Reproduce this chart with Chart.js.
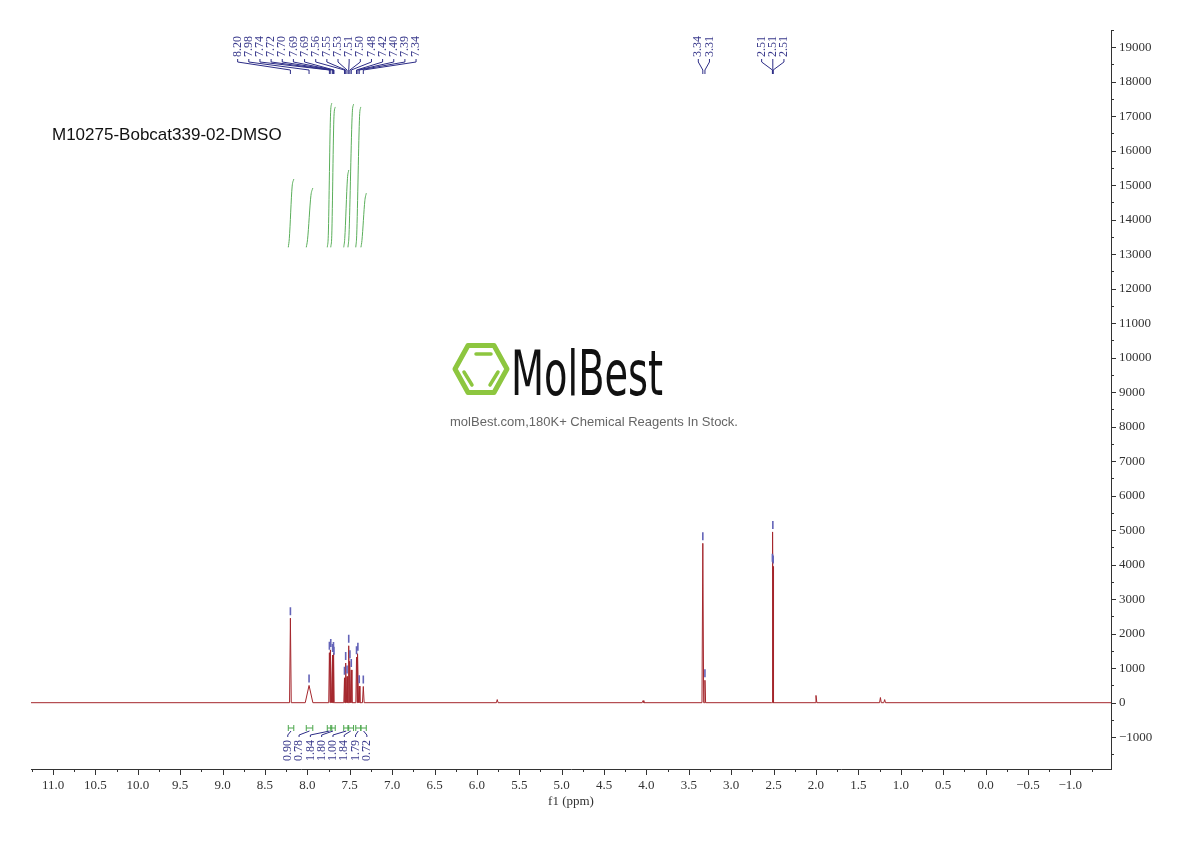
<!DOCTYPE html>
<html>
<head>
<meta charset="utf-8">
<script src="https://cdn.jsdelivr.net/npm/chart.js@4.4.0/dist/chart.umd.min.js"></script>
<style>
    html, body { margin: 0; padding: 0; background: #fff; }
    #wrap { width: 1190px; height: 841px; }
</style>
</head>
<body>
<div id="wrap"><canvas id="nmr" width="1190" height="841"></canvas></div>
<script>
// Sample name printed in the plot
const sampleName = "M10275-Bobcat339-02-DMSO";

// Picked peaks (shift in ppm, printed label, intensity, half width at base)
const peakShift = [8.200, 7.980, 7.740, 7.724, 7.702, 7.692, 7.686, 7.562, 7.548, 7.532,
                   7.512, 7.498, 7.482, 7.420, 7.404, 7.388, 7.340, 3.335, 3.310, 2.514, 2.509, 2.505];
const peakLabel = ["8.20", "7.98", "7.74", "7.72", "7.70", "7.69", "7.69", "7.56", "7.55", "7.53",
                   "7.51", "7.50", "7.48", "7.42", "7.40", "7.39", "7.34", "3.34", "3.31", "2.51", "2.51", "2.51"];
const peakHeight = [2450, 500, 1450, 1530, 1380, 1440, 1300, 720, 1150, 760,
                    1650, 1200, 950, 1320, 1420, 480, 470, 4620, 650, 4000, 4950, 3950];
const peakWidth = [0.010, 0.045, 0.008, 0.008, 0.008, 0.008, 0.008, 0.008, 0.008, 0.008,
                   0.008, 0.008, 0.008, 0.008, 0.008, 0.008, 0.010, 0.010, 0.008, 0.008, 0.008, 0.008];

// Small unlabelled peaks
const minorShift = [5.76, 4.04, 2.00, 1.24, 1.19];
const minorHeight = [90, 60, 210, 150, 90];

// Which picked peaks share a label fan at the top
const labelGroups = [
    [0, 1, 2, 3, 4, 5, 6, 7, 8, 9, 10, 11, 12, 13, 14, 15, 16],
    [17, 18],
    [19, 20, 21]
];

// Integrals
const integralFrom = [8.225, 8.013, 7.765, 7.724, 7.571, 7.521, 7.429, 7.368];
const integralTo = [8.160, 7.936, 7.712, 7.671, 7.512, 7.455, 7.370, 7.305];
const integralValue = ["0.90", "0.78", "1.84", "1.80", "1.00", "1.84", "1.79", "0.72"];
const integralCurves = [
    [[8.225, 13200], [8.213, 13450], [8.180, 14950], [8.160, 15180]],
    [[8.013, 13200], [7.998, 13420], [7.958, 14700], [7.936, 14920]],
    [[7.765, 13200], [7.753, 13550], [7.726, 17100], [7.712, 17380]],
    [[7.724, 13200], [7.712, 13550], [7.686, 17000], [7.671, 17270]],
    [[7.571, 13200], [7.559, 13450], [7.527, 15200], [7.512, 15440]],
    [[7.521, 13200], [7.509, 13550], [7.470, 17100], [7.455, 17350]],
    [[7.429, 13200], [7.418, 13550], [7.384, 17000], [7.370, 17270]],
    [[7.368, 13200], [7.356, 13400], [7.322, 14550], [7.305, 14770]]
];

// Axis ranges
const xMin = -1.48, xMax = 11.26;
const yMin = -1922, yMax = 19500;

// y ticks every 500, labelled every 1000
let yTickValues = [];
for (let v = -1500; v <= yMax; v += 500) {
    yTickValues.push(v);
}

// Build spectrum line from peaks
let spectrum = [{x: xMax, y: 0}, {x: xMin, y: 0}];
for (let i = 0; i < peakShift.length; i++) {
    spectrum.push({x: peakShift[i] + peakWidth[i], y: 0});
    spectrum.push({x: peakShift[i], y: peakHeight[i]});
    spectrum.push({x: peakShift[i] - peakWidth[i], y: 0});
}
for (let i = 0; i < minorShift.length; i++) {
    spectrum.push({x: minorShift[i] + 0.01, y: 0});
    spectrum.push({x: minorShift[i], y: minorHeight[i]});
    spectrum.push({x: minorShift[i] - 0.01, y: 0});
}
spectrum.sort((a, b) => b.x - a.x);

// Datasets
let datasets = [{
    data: spectrum,
    borderColor: "#a4262c",
    borderWidth: 1,
    pointRadius: 0,
    tension: 0,
    fill: false
}];
integralCurves.forEach((curve) => {
    datasets.push({
        data: curve.map((p) => ({x: p[0], y: p[1]})),
        borderColor: "#5aae5a",
        borderWidth: 1,
        pointRadius: 0,
        cubicInterpolationMode: "monotone",
        fill: false
    });
});

const serif = '"Liberation Serif", "DejaVu Serif", serif';
const isStep = (v, s) => Math.abs(v / s - Math.round(v / s)) < 1e-6;

// Extra drawing: ticks, peak labels, integrals, logo, sample name
const decorations = {
    id: "decorations",
    beforeDatasetsDraw(chart) {
        const ctx = chart.ctx;
        ctx.save();
        // logo hexagon
        ctx.strokeStyle = "#8dc63f";
        ctx.lineWidth = 5;
        ctx.lineJoin = "round";
        ctx.beginPath();
        ctx.moveTo(455, 369);
        ctx.lineTo(468, 345.5);
        ctx.lineTo(494, 345.5);
        ctx.lineTo(507, 369);
        ctx.lineTo(494, 392.5);
        ctx.lineTo(468, 392.5);
        ctx.closePath();
        ctx.stroke();
        ctx.lineWidth = 3.5;
        ctx.lineCap = "round";
        ctx.beginPath();
        ctx.moveTo(476, 354); ctx.lineTo(491, 354);
        ctx.moveTo(464, 372); ctx.lineTo(472, 385);
        ctx.moveTo(498, 372); ctx.lineTo(490, 385);
        ctx.stroke();
        // logo text
        ctx.fillStyle = "#111";
        ctx.font = '62px "DejaVu Sans"';
        ctx.textBaseline = "alphabetic";
        const w = ctx.measureText("MolBest").width;
        ctx.save();
        ctx.translate(511, 395);
        ctx.scale(152 / w, 1);
        ctx.fillText("MolBest", 0, 0);
        ctx.restore();
        ctx.fillStyle = "#666";
        ctx.font = '13px "Liberation Sans", Arial, sans-serif';
        ctx.textAlign = "center";
        ctx.fillText("molBest.com,180K+ Chemical Reagents In Stock.", 594, 426);
        ctx.restore();
    },
    afterDraw(chart) {
        const ctx = chart.ctx;
        const xs = chart.scales.x;
        const ys = chart.scales.y;
        const area = chart.chartArea;
        ctx.save();

        // axis ticks
        ctx.strokeStyle = "#333";
        ctx.lineWidth = 1;
        ctx.beginPath();
        xs.ticks.forEach((t) => {
            const px = Math.round(xs.getPixelForValue(t.value)) + 0.5;
            ctx.moveTo(px, area.bottom);
            ctx.lineTo(px, area.bottom + (isStep(t.value, 0.5) ? 6 : 3));
        });
        ys.ticks.forEach((t) => {
            const py = Math.round(ys.getPixelForValue(t.value)) + 0.5;
            ctx.moveTo(area.right, py);
            ctx.lineTo(area.right + (isStep(t.value, 1000) ? 5 : 3), py);
        });
        ctx.stroke();

        // peak markers
        ctx.strokeStyle = "#6464b8";
        ctx.lineWidth = 1.6;
        ctx.beginPath();
        for (let i = 0; i < peakShift.length; i++) {
            const px = xs.getPixelForValue(peakShift[i]);
            const py = ys.getPixelForValue(peakHeight[i]);
            ctx.moveTo(px, py - 3);
            ctx.lineTo(px, py - 11);
        }
        ctx.stroke();

        // peak label fans
        const spacing = 11.15;
        ctx.font = "12px " + serif;
        ctx.fillStyle = "#3a3a8c";
        ctx.strokeStyle = "#2c2c86";
        ctx.lineWidth = 1;
        labelGroups.forEach((group) => {
            const pxs = group.map((i) => xs.getPixelForValue(peakShift[i]));
            const mid = (Math.min(...pxs) + Math.max(...pxs)) / 2;
            group.forEach((idx, k) => {
                const lx = mid + (k - (group.length - 1) / 2) * spacing;
                ctx.save();
                ctx.translate(lx, 57);
                ctx.rotate(-Math.PI / 2);
                ctx.textAlign = "left";
                ctx.textBaseline = "middle";
                ctx.fillText(peakLabel[idx], 0, 0);
                ctx.restore();
                ctx.beginPath();
                ctx.moveTo(lx, 59);
                ctx.lineTo(lx, 62);
                ctx.lineTo(pxs[k], 70);
                ctx.lineTo(pxs[k], 74);
                ctx.stroke();
            });
        });

        // integral brackets and values
        const ipx = integralFrom.map((v, i) => (xs.getPixelForValue(v) + xs.getPixelForValue(integralTo[i])) / 2);
        const imid = (ipx[0] + ipx[ipx.length - 1]) / 2;
        for (let i = 0; i < integralFrom.length; i++) {
            const a = xs.getPixelForValue(integralFrom[i]);
            const b = xs.getPixelForValue(integralTo[i]);
            ctx.strokeStyle = "#4aa64a";
            ctx.beginPath();
            ctx.moveTo(a, 725); ctx.lineTo(a, 731);
            ctx.moveTo(b, 725); ctx.lineTo(b, 731);
            ctx.moveTo(a, 728); ctx.lineTo(b, 728);
            ctx.stroke();
            const lx = imid + (i - (integralFrom.length - 1) / 2) * 11.3;
            ctx.strokeStyle = "#2c2c86";
            ctx.beginPath();
            ctx.moveTo(ipx[i], 731);
            ctx.lineTo(lx, 735);
            ctx.lineTo(lx, 737);
            ctx.stroke();
            ctx.save();
            ctx.translate(lx, 761);
            ctx.rotate(-Math.PI / 2);
            ctx.textAlign = "left";
            ctx.textBaseline = "middle";
            ctx.fillText(integralValue[i], 0, 0);
            ctx.restore();
        }

        // sample name
        ctx.fillStyle = "#111";
        ctx.font = '17px "Liberation Sans", Arial, sans-serif';
        ctx.textAlign = "left";
        ctx.textBaseline = "alphabetic";
        ctx.fillText(sampleName, 52, 140);
        ctx.restore();
    }
};

new Chart(document.getElementById("nmr"), {
    type: "line",
    data: {datasets: datasets},
    options: {
        responsive: false,
        animation: false,
        devicePixelRatio: 1,
        layout: {padding: {left: 31, top: 30, right: 0, bottom: 0}},
        plugins: {
            legend: {display: false},
            tooltip: {enabled: false}
        },
        scales: {
            x: {
                type: "linear",
                reverse: true,
                min: xMin,
                max: xMax,
                border: {display: true, color: "#333", width: 1},
                grid: {display: true, drawOnChartArea: false, drawTicks: false},
                ticks: {
                    stepSize: 0.25,
                    includeBounds: false,
                    autoSkip: false,
                    maxRotation: 0,
                    padding: 9,
                    color: "#333",
                    font: {family: serif, size: 13},
                    callback: (v) => isStep(v, 0.5) ? v.toFixed(1).replace("-", "\u2212") : ""
                },
                title: {
                    display: true,
                    text: "f1 (ppm)",
                    color: "#333",
                    font: {family: serif, size: 13},
                    padding: {top: 0, bottom: 32}
                },
                afterFit: (s) => { s.height = 72; }
            },
            y: {
                type: "linear",
                position: "right",
                min: yMin,
                max: yMax,
                border: {display: true, color: "#333", width: 1},
                grid: {display: true, drawOnChartArea: false, drawTicks: false},
                afterBuildTicks: (s) => { s.ticks = yTickValues.map((v) => ({value: v})); },
                ticks: {
                    autoSkip: false,
                    padding: 8,
                    color: "#333",
                    font: {family: serif, size: 13},
                    callback: (v) => isStep(v, 1000) ? (v < 0 ? "\u2212" + (-v) : String(v)) : ""
                },
                afterFit: (s) => { s.width = 79; }
            }
        }
    },
    plugins: [decorations]
});
</script>
</body>
</html>
